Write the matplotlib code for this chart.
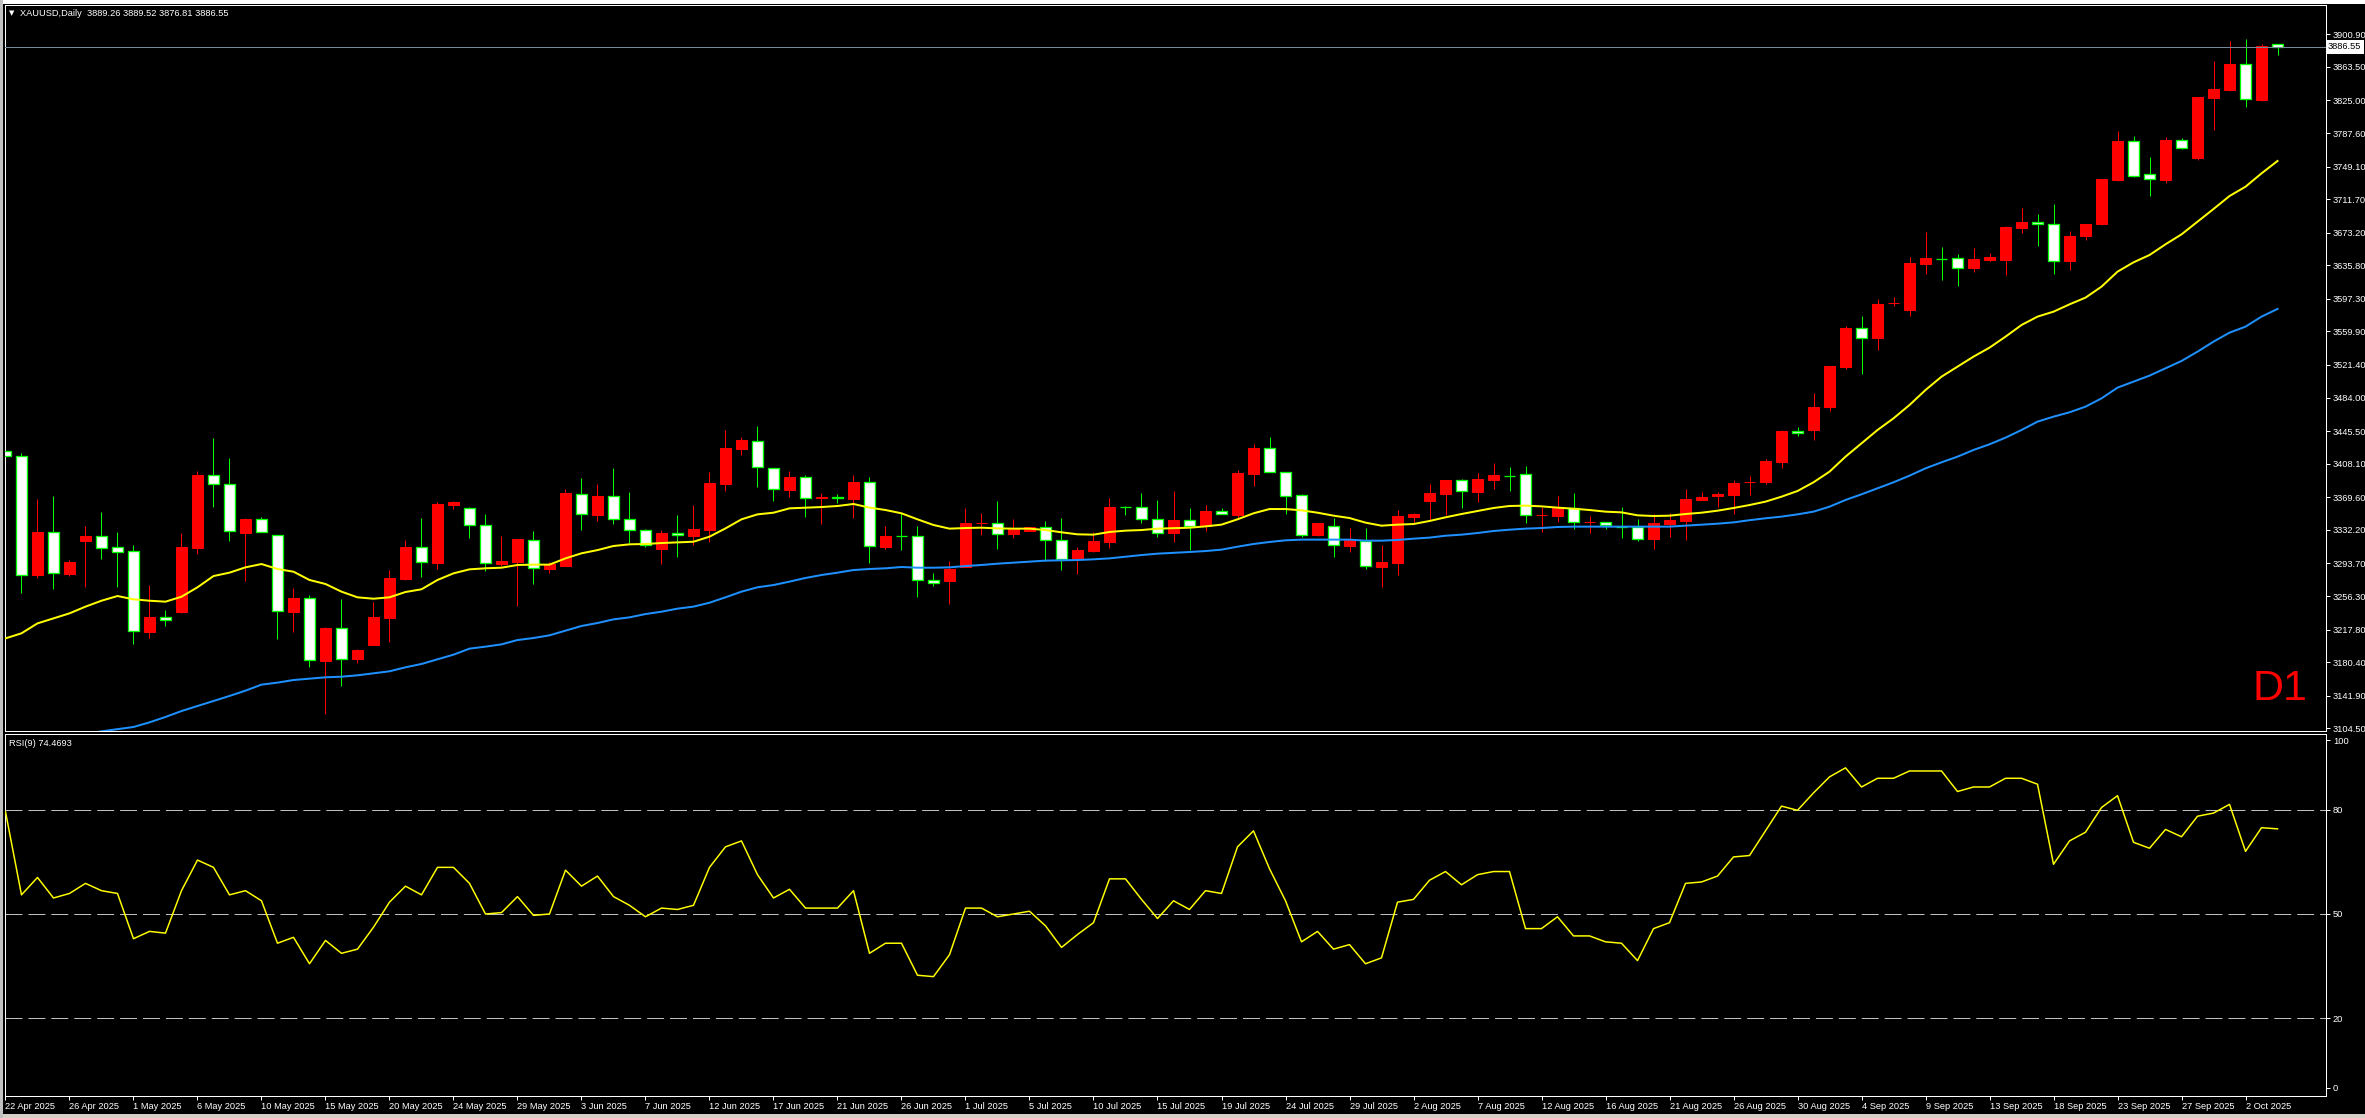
import matplotlib
matplotlib.use('Agg')
import matplotlib.pyplot as plt
import matplotlib.transforms as mtransforms
from matplotlib.patches import Rectangle
import numpy as np

W, H = 2365, 1118

# OHLC (one bar per trading day, bar 0 = 22 Apr 2025)
opens = [3422.3, 3416.6, 3280.4, 3329.4, 3281.5, 3319.4, 3324.8, 3312.2, 3307.6, 3215.4,
         3231.8, 3238.3, 3311.8, 3394.8, 3384.4, 3329.0, 3344.3, 3325.9, 3238.3, 3253.6,
         3182.1, 3219.2, 3183.6, 3200.5, 3231.4, 3276.2, 3312.2, 3294.6, 3361.1, 3356.9,
         3337.4, 3293.4, 3295.3, 3320.9, 3287.7, 3291.1, 3373.7, 3349.6, 3370.7, 3344.3,
         3331.7, 3310.6, 3328.2, 3325.5, 3332.4, 3385.2, 3425.0, 3433.8, 3403.6, 3378.3,
         3392.5, 3369.2, 3369.6, 3368.0, 3386.7, 3312.9, 3325.3, 3324.8, 3274.3, 3273.9,
         3289.2, 3340.1, 3340.5, 3327.4, 3331.3, 3335.1, 3320.2, 3298.4, 3308.3, 3318.6,
         3358.6, 3358.0, 3344.3, 3328.2, 3343.1, 3337.0, 3353.5, 3349.2, 3396.7, 3425.8,
         3398.2, 3371.8, 3326.3, 3336.2, 3314.1, 3319.8, 3290.0, 3294.5, 3347.3, 3365.7,
         3373.7, 3389.0, 3376.0, 3389.8, 3394.5, 3396.7, 3348.7, 3348.5, 3356.9, 3341.4,
         3341.6, 3336.0, 3335.5, 3321.7, 3338.9, 3342.4, 3366.8, 3371.4, 3372.2, 3387.1,
         3387.5, 3410.5, 3445.3, 3446.8, 3473.6, 3519.5, 3563.5, 3552.0, 3592.2, 3584.9,
         3637.7, 3643.2, 3643.8, 3632.3, 3642.3, 3642.3, 3679.0, 3685.1, 3682.8, 3640.3,
         3669.0, 3683.2, 3733.7, 3778.1, 3740.2, 3733.7, 3779.2, 3758.9, 3828.2, 3837.0,
         3866.4, 3825.5, 3889.26]
highs = [3499.6, 3420.8, 3367.6, 3371.0, 3297.6, 3337.0, 3352.7, 3329.8, 3314.8, 3268.9,
         3240.2, 3328.6, 3400.1, 3437.6, 3414.7, 3346.2, 3347.0, 3325.9, 3265.5, 3257.5,
         3220.7, 3252.9, 3195.9, 3249.8, 3286.1, 3320.6, 3345.8, 3364.2, 3365.3, 3358.8,
         3350.4, 3325.5, 3321.3, 3330.5, 3294.9, 3379.1, 3391.7, 3384.8, 3403.2, 3375.6,
         3333.2, 3332.0, 3349.3, 3360.7, 3398.6, 3446.8, 3438.8, 3451.4, 3403.6, 3399.7,
         3395.2, 3374.5, 3373.4, 3395.2, 3392.5, 3336.6, 3351.6, 3336.6, 3282.3, 3296.5,
         3357.3, 3351.6, 3365.3, 3344.7, 3335.5, 3342.4, 3345.8, 3312.2, 3329.4, 3369.2,
         3359.6, 3374.5, 3366.5, 3376.8, 3356.9, 3360.3, 3356.9, 3400.9, 3430.7, 3438.8,
         3398.2, 3373.3, 3340.1, 3345.8, 3334.3, 3334.3, 3314.8, 3355.0, 3351.9, 3384.8,
         3389.4, 3390.6, 3397.5, 3408.9, 3404.0, 3405.5, 3358.0, 3371.0, 3374.5, 3348.1,
         3341.6, 3358.4, 3344.7, 3350.0, 3351.6, 3379.1, 3375.6, 3376.0, 3389.4, 3394.0,
         3413.5, 3446.8, 3450.3, 3489.6, 3520.3, 3566.1, 3577.6, 3597.1, 3599.4, 3645.3,
         3674.0, 3656.8, 3648.8, 3655.7, 3649.9, 3681.3, 3701.6, 3694.7, 3705.8, 3675.2,
         3683.2, 3735.2, 3789.9, 3784.2, 3760.1, 3783.0, 3781.9, 3828.9, 3870.6, 3893.6,
         3895.9, 3889.4, 3889.52]
lows = [3404.7, 3260.1, 3277.3, 3264.3, 3279.3, 3266.6, 3298.8, 3266.6, 3201.6, 3208.5,
        3222.3, 3237.2, 3304.9, 3358.8, 3319.8, 3273.9, 3329.4, 3207.3, 3215.4, 3175.2,
        3120.5, 3153.4, 3179.8, 3200.5, 3203.9, 3274.6, 3278.5, 3286.9, 3355.7, 3323.2,
        3285.4, 3291.1, 3245.2, 3270.5, 3283.1, 3291.1, 3332.4, 3342.7, 3339.3, 3316.0,
        3312.9, 3293.4, 3301.4, 3315.2, 3318.6, 3377.2, 3418.5, 3381.8, 3365.7, 3370.3,
        3347.3, 3339.3, 3363.4, 3346.2, 3294.5, 3310.2, 3309.5, 3255.5, 3268.2, 3247.5,
        3289.2, 3326.3, 3310.6, 3323.2, 3331.3, 3296.5, 3286.1, 3281.9, 3307.2, 3311.8,
        3348.9, 3340.5, 3324.4, 3318.6, 3309.1, 3330.9, 3350.0, 3346.2, 3382.5, 3398.2,
        3350.8, 3324.4, 3325.5, 3301.4, 3307.2, 3287.7, 3267.0, 3280.4, 3339.7, 3343.5,
        3349.6, 3357.7, 3364.6, 3379.5, 3377.2, 3340.5, 3330.1, 3341.6, 3333.2, 3329.0,
        3333.2, 3323.2, 3319.4, 3310.2, 3324.4, 3320.6, 3366.8, 3358.0, 3350.4, 3371.8,
        3384.4, 3403.6, 3440.3, 3435.3, 3468.6, 3516.8, 3510.7, 3538.6, 3589.1, 3578.0,
        3625.4, 3618.9, 3612.5, 3628.5, 3640.7, 3625.1, 3673.2, 3658.3, 3626.2, 3630.4,
        3665.2, 3682.0, 3732.9, 3737.5, 3715.3, 3730.6, 3769.3, 3756.3, 3791.1, 3835.8,
        3817.8, 3824.7, 3876.81]
closes = [3416.6, 3280.0, 3329.8, 3282.3, 3295.3, 3325.2, 3311.8, 3307.2, 3215.8, 3232.2,
          3228.4, 3312.5, 3395.2, 3384.4, 3330.5, 3344.7, 3329.4, 3239.1, 3254.0, 3182.5,
          3219.6, 3183.6, 3194.3, 3232.2, 3276.9, 3312.5, 3294.9, 3361.9, 3364.2, 3337.4,
          3293.8, 3296.5, 3321.3, 3288.1, 3292.6, 3374.1, 3350.0, 3371.1, 3344.3, 3331.7,
          3314.4, 3328.2, 3325.9, 3333.2, 3386.0, 3426.1, 3434.9, 3404.0, 3378.7, 3392.5,
          3368.4, 3369.6, 3369.0, 3386.7, 3313.3, 3325.1, 3325.1, 3274.3, 3271.2, 3287.7,
          3339.7, 3340.6, 3327.1, 3333.2, 3335.5, 3320.2, 3298.4, 3309.1, 3319.4, 3358.4,
          3358.2, 3344.3, 3328.2, 3343.5, 3336.2, 3353.8, 3350.0, 3397.5, 3426.1, 3398.2,
          3371.4, 3326.7, 3340.1, 3314.4, 3320.6, 3290.3, 3295.3, 3348.1, 3350.4, 3374.5,
          3389.4, 3376.4, 3390.6, 3394.8, 3394.3, 3348.9, 3348.9, 3357.7, 3340.9, 3341.8,
          3337.4, 3335.9, 3322.1, 3339.7, 3343.5, 3367.6, 3369.9, 3373.3, 3386.0, 3387.5,
          3411.2, 3445.7, 3443.4, 3473.2, 3520.3, 3564.2, 3552.0, 3591.4, 3592.5, 3638.4,
          3644.2, 3643.0, 3632.3, 3643.0, 3645.3, 3679.8, 3685.1, 3682.8, 3640.3, 3669.4,
          3683.2, 3735.2, 3778.4, 3738.7, 3734.4, 3779.6, 3770.8, 3828.9, 3838.1, 3866.8,
          3826.3, 3887.5, 3886.55]

# moving averages as drawn (yellow = fast, blue = slow)
ma_fast = [3207.7, 3213.5, 3224.9, 3230.7, 3236.4, 3244.1, 3250.9, 3256.3, 3252.5, 3250.9,
           3249.8, 3255.5, 3266.3, 3279.2, 3283.1, 3289.2, 3293.0, 3287.3, 3284.2, 3274.7,
           3270.1, 3261.3, 3254.8, 3253.2, 3254.8, 3260.9, 3264.0, 3274.7, 3282.3, 3286.9,
           3288.1, 3288.8, 3291.9, 3292.3, 3292.3, 3299.5, 3305.3, 3309.0, 3313.7, 3315.6,
           3316.0, 3317.1, 3317.9, 3318.6, 3324.4, 3333.9, 3344.3, 3350.0, 3351.9, 3356.9,
           3357.7, 3358.4, 3359.6, 3361.9, 3357.7, 3355.0, 3351.2, 3344.3, 3337.8, 3333.6,
           3334.3, 3334.7, 3333.9, 3333.6, 3333.6, 3332.0, 3329.4, 3327.1, 3326.7, 3329.8,
           3331.3, 3332.0, 3333.6, 3334.1, 3334.7, 3336.2, 3338.2, 3344.3, 3351.2, 3356.1,
           3356.1, 3354.6, 3351.9, 3348.5, 3345.8, 3340.5, 3337.0, 3338.2, 3338.9, 3342.4,
           3346.6, 3350.4, 3353.8, 3357.3, 3359.6, 3360.0, 3359.2, 3357.7, 3356.5, 3355.0,
           3353.1, 3352.3, 3348.9, 3348.1, 3348.5, 3350.4, 3351.9, 3354.2, 3357.3, 3360.7,
           3364.6, 3370.3, 3376.8, 3386.8, 3399.0, 3416.2, 3431.5, 3446.8, 3460.2, 3475.5,
           3492.7, 3508.0, 3519.5, 3531.0, 3541.3, 3553.9, 3567.3, 3576.9, 3582.6, 3591.0,
           3598.7, 3611.3, 3628.5, 3639.2, 3647.6, 3659.9, 3671.3, 3685.9, 3700.4, 3715.3,
           3726.0, 3741.3, 3755.5]
ma_slow = [3086.0, 3088.5, 3091.0, 3093.5, 3096.0, 3098.5, 3101.0, 3103.5, 3106.0, 3111.3,
           3117.5, 3124.3, 3130.1, 3135.8, 3141.6, 3147.7, 3154.6, 3156.9, 3159.9, 3161.5,
           3163.0, 3163.7, 3165.3, 3167.6, 3169.9, 3174.5, 3178.3, 3183.6, 3189.0, 3195.9,
           3198.2, 3200.8, 3205.8, 3208.1, 3211.2, 3216.5, 3221.9, 3225.3, 3229.5, 3231.8,
           3235.6, 3238.3, 3241.8, 3244.1, 3248.6, 3254.8, 3261.3, 3266.3, 3268.9, 3272.8,
           3277.0, 3280.4, 3283.1, 3286.1, 3287.3, 3288.1, 3289.6, 3288.8, 3288.8, 3289.2,
           3290.7, 3291.9, 3293.4, 3294.6, 3295.7, 3296.9, 3297.2, 3297.6, 3298.4, 3299.5,
           3301.4, 3303.3, 3304.9, 3305.8, 3306.8, 3307.9, 3309.5, 3312.9, 3316.0, 3318.3,
           3320.2, 3321.0, 3321.0, 3321.0, 3321.0, 3319.8, 3319.8, 3320.6, 3322.1, 3323.3,
           3325.5, 3326.7, 3328.6, 3330.9, 3332.4, 3333.6, 3334.3, 3335.5, 3335.9, 3335.9,
           3335.9, 3335.9, 3335.9, 3335.9, 3335.9, 3337.0, 3338.2, 3339.3, 3340.8, 3343.3,
           3345.5, 3347.4, 3350.0, 3353.1, 3358.8, 3366.5, 3373.0, 3379.9, 3386.8, 3394.4,
           3402.8, 3409.7, 3416.2, 3423.9, 3430.4, 3438.0, 3446.8, 3456.4, 3462.1, 3467.1,
           3473.6, 3483.1, 3495.4, 3502.3, 3509.2, 3517.6, 3526.0, 3536.7, 3548.2, 3558.5,
           3565.4, 3576.9, 3585.7]

# RSI(9)
rsi = [79.4, 55.5, 60.5, 54.6, 55.9, 58.8, 56.7, 55.9, 42.9, 45.0,
       44.5, 56.7, 65.5, 63.4, 55.5, 56.7, 53.8, 41.6, 43.3, 35.7,
       42.4, 38.7, 39.9, 46.2, 53.4, 58.0, 55.5, 63.4, 63.4, 58.8,
       50.0, 50.4, 55.0, 49.6, 50.0, 62.6, 58.0, 60.9, 55.0, 52.5,
       49.2, 51.7, 51.3, 52.5, 63.4, 69.3, 71.0, 61.3, 54.6, 57.1,
       51.7, 51.7, 51.7, 56.7, 38.7, 41.6, 41.6, 32.4, 32.0, 38.3,
       51.7, 51.7, 49.2, 50.0, 50.8, 46.6, 40.4, 44.1, 47.5, 60.1,
       60.1, 54.2, 48.7, 53.8, 51.3, 56.7, 55.9, 69.3, 73.9, 63.0,
       53.8, 42.0, 45.0, 39.9, 41.2, 35.7, 37.4, 53.4, 54.2, 59.7,
       62.2, 58.4, 61.3, 62.2, 62.2, 45.8, 45.8, 49.2, 43.7, 43.7,
       42.0, 41.6, 36.6, 45.8, 47.5, 58.8, 59.2, 60.9, 66.4, 66.8,
       73.9, 81.0, 79.8, 84.8, 89.4, 92.0, 86.5, 89.0, 89.0, 91.1,
       91.1, 91.1, 85.2, 86.5, 86.5, 89.0, 89.0, 87.3, 64.3, 71.0,
       73.5, 80.6, 84.0, 70.6, 68.9, 74.3, 72.2, 78.1, 79.0, 81.5,
       68.0, 74.8, 74.4693]

price_ticks = [3900.90, 3863.50, 3825.00, 3787.60, 3749.10, 3711.70, 3673.20, 3635.80,
               3597.30, 3559.90, 3521.40, 3484.00, 3445.50, 3408.10, 3369.60, 3332.20,
               3293.70, 3256.30, 3217.80, 3180.40, 3141.90, 3104.50]
rsi_levels = [20, 50, 80]
rsi_ticks = [100, 80, 50, 20, 0]
date_labels = ['22 Apr 2025', '26 Apr 2025', '1 May 2025', '6 May 2025', '10 May 2025',
               '15 May 2025', '20 May 2025', '24 May 2025', '29 May 2025', '3 Jun 2025',
               '7 Jun 2025', '12 Jun 2025', '17 Jun 2025', '21 Jun 2025', '26 Jun 2025',
               '1 Jul 2025', '5 Jul 2025', '10 Jul 2025', '15 Jul 2025', '19 Jul 2025',
               '24 Jul 2025', '29 Jul 2025', '2 Aug 2025', '7 Aug 2025', '12 Aug 2025',
               '16 Aug 2025', '21 Aug 2025', '26 Aug 2025', '30 Aug 2025', '4 Sep 2025',
               '9 Sep 2025', '13 Sep 2025', '18 Sep 2025', '23 Sep 2025', '27 Sep 2025',
               '2 Oct 2025']
last_price = 3886.55

plt.rcParams['font.family'] = ['Liberation Sans', 'DejaVu Sans']
plt.rcParams['lines.scale_dashes'] = False

PX = 72 / 100  # points per pixel at dpi 100
FS = 6.7

fig = plt.figure(figsize=(W / 100, H / 100), dpi=100, facecolor='black')


def box(x0, y0, x1, y1):
    return [x0 / W, 1 - y1 / H, (x1 - x0) / W, (y1 - y0) / H]


ax = fig.add_axes(box(5, 5, 2326, 731))
ax_r = fig.add_axes(box(5, 733.5, 2326, 1095.5), sharex=ax)

for a in (ax, ax_r):
    a.set_facecolor('black')
    for s in a.spines.values():
        s.set_color('white')
        s.set_linewidth(1 * PX)

x = np.arange(len(opens))
o = np.array(opens)
c = np.array(closes)
up = c >= o

# wicks
wick_cols = ['#ff0000' if u else '#00ff00' for u in up]
ax.vlines(x, lows, highs, colors=wick_cols, linewidth=1 * PX, zorder=2)
# bodies
bottoms = np.minimum(o, c)
heights = np.abs(c - o)
ax.bar(x[up], heights[up], bottom=bottoms[up], width=0.65, color='#ff0000',
       edgecolor='#ff0000', linewidth=1 * PX, zorder=3)
ax.bar(x[~up], heights[~up], bottom=bottoms[~up], width=0.65, color='white',
       edgecolor='#00ff00', linewidth=1.3 * PX, zorder=3)

ax.plot(x, ma_fast, color='#ffff00', linewidth=2 * PX, zorder=4)
ax.plot(x, ma_slow, color='#1e90ff', linewidth=2 * PX, zorder=4)
ax.axhline(last_price, color='#778899', linewidth=1 * PX, zorder=5)

ax.set_xlim(-0.03, 145.03)
ax.set_ylim(3101.4, 3934.5)
ax.yaxis.tick_right()
ax.set_yticks(price_ticks)
ax.set_yticklabels(['%.2f' % v for v in price_ticks])
ax.tick_params(axis='y', direction='out', length=4 * PX, width=1 * PX, colors='white',
               labelsize=FS, pad=2)
ax.tick_params(axis='x', bottom=False, labelbottom=False)

trans = mtransforms.blended_transform_factory(ax.transAxes, ax.transData)
ax.text(1.0008, last_price, '%.2f' % last_price, transform=trans, ha='left', va='center',
        fontsize=FS, color='black', zorder=10, clip_on=False,
        bbox=dict(facecolor='white', edgecolor='none', boxstyle='square,pad=0.25'))

# RSI panel
ax_r.plot(x, rsi, color='#ffff00', linewidth=1.5 * PX, zorder=3)
for lv in rsi_levels:
    ax_r.axhline(lv, color='#c0c0c0', linewidth=1 * PX, linestyle=(0, (12.2, 4.3)), zorder=2)
ax_r.set_ylim(-2.16, 101.87)
ax_r.yaxis.tick_right()
ax_r.set_yticks(rsi_ticks)
ax_r.set_yticklabels([str(v) for v in rsi_ticks])
ax_r.tick_params(axis='y', direction='out', length=4 * PX, width=1 * PX, colors='white',
                 labelsize=FS, pad=2)
ax_r.set_xticks(np.arange(0, 4 * len(date_labels), 4))
ax_r.set_xticklabels(date_labels)
ax_r.tick_params(axis='x', direction='out', length=4 * PX, width=1 * PX, colors='white',
                 labelsize=FS, pad=1.5)
for lbl in ax_r.get_xticklabels():
    lbl.set_horizontalalignment('left')
ax_r.set_xlim(-0.03, 145.03)

# headers
fig.text(9 / W, 1 - 13 / H, '\u25bc', fontsize=5, color='white', family='DejaVu Sans',
         ha='left', va='center')
fig.text(20 / W, 1 - 13 / H, 'XAUUSD,Daily  3889.26 3889.52 3876.81 3886.55', fontsize=FS,
         color='white', ha='left', va='center')
fig.text(9 / W, 1 - 743 / H, 'RSI(9) 74.4693', fontsize=FS, color='white',
         ha='left', va='center')
fig.text(2253 / W, 1 - 689 / H, 'D1', fontsize=31,
         family=['Liberation Sans Narrow', 'Liberation Sans'], color='#ff0000',
         ha='left', va='center')

# window frame strips
fig.patches.append(Rectangle((0, 1 - 4 / H), 1, 4 / H, transform=fig.transFigure,
                             facecolor='white', edgecolor='none', zorder=0))
fig.patches.append(Rectangle((0, 0), 1, 4 / H, transform=fig.transFigure,
                             facecolor='#d4d0c8', edgecolor='none', zorder=0))
fig.patches.append(Rectangle((0, 0), 2.7 / W, 1, transform=fig.transFigure,
                             facecolor='#c0c0c0', edgecolor='none', zorder=0))

fig.savefig('out.png', dpi=100, facecolor='black')
